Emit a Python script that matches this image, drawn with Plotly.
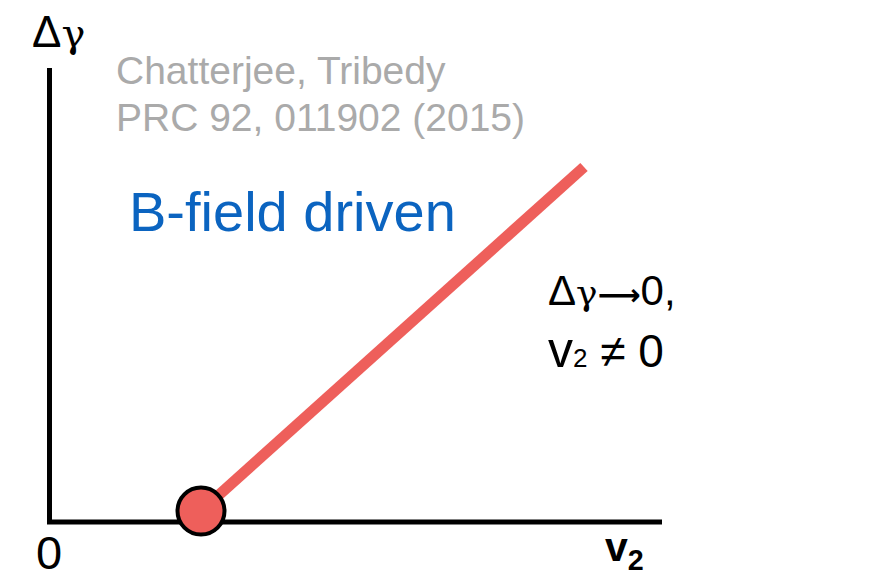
import plotly.graph_objects as go

W, H = 875, 574
PAGE_OFF = 8  # default body margin of the html page

# data (axis units: 1 unit = 100 px, origin at axes corner)
line_v2 = [1.515, 5.345]
line_dgamma = [0.11, 3.55]
point_v2 = [1.515]
point_dgamma = [0.11]
axis_x_end = 6.125
axis_y_end = 4.54

OX, OY = 49.5 - PAGE_OFF, 522.0 - PAGE_OFF  # origin in figure pixels
SCALE = 100.0

RED = "#EE5F5B"
BLUE = "#0B64C0"
GRAY = "#AAAAAA"
SANS = "Liberation Sans, Arial, sans-serif"

fig = go.Figure()

# axes
fig.add_trace(go.Scatter(x=[0, 0, axis_x_end], y=[axis_y_end, 0, 0], mode="lines",
                         line=dict(color="black", width=5), hoverinfo="skip", showlegend=False))
# line
fig.add_trace(go.Scatter(x=line_v2, y=line_dgamma, mode="lines",
                         line=dict(color=RED, width=11), hoverinfo="skip", showlegend=False))
# point
fig.add_trace(go.Scatter(x=point_v2, y=point_dgamma, mode="markers",
                         marker=dict(color=RED, size=47, line=dict(color="black", width=4)),
                         hoverinfo="skip", showlegend=False))


def px(xp, yp):
    return (xp - PAGE_OFF) / W, 1 - (yp - PAGE_OFF) / H


def ann(text, xp, yp, size, color="black", xanchor="left", yanchor="middle", family=SANS):
    x, y = px(xp, yp)
    fig.add_annotation(text=text, x=x, y=y, xref="paper", yref="paper",
                       xanchor=xanchor, yanchor=yanchor, showarrow=False,
                       font=dict(size=size, color=color, family=family))


def gam(size):
    return '<span style="font-family:DejaVu Serif;font-size:%dpx">γ</span>' % size


arrow = '<span style="font-family:DejaVu Sans;font-size:30px"><b>⟶</b></span>'
ann("Δ" + gam(40), 30, 32, 44)
ann("0", 49, 552, 47, xanchor="center")
ann("<b>v<sub>2</sub></b>", 603, 550, 41)
ann("Chatterjee, Tribedy", 114, 71, 39, color=GRAY)
ann("PRC 92, 011902 (2015)", 114, 117, 39, color=GRAY)
ann("B-field driven", 127, 212, 56, color=BLUE)
ann("Δ" + gam(36) + arrow + "0,", 546, 290, 42)
ann('<span style="font-size:50px">v</span><span style="font-size:26px">2</span> ≠ 0', 546, 350, 46)

fig.update_layout(
    width=W, height=H, margin=dict(l=0, r=0, t=0, b=0),
    paper_bgcolor="white", plot_bgcolor="white",
    xaxis=dict(range=[-OX / SCALE, (W - OX) / SCALE], visible=False, fixedrange=True),
    yaxis=dict(range=[(OY - H) / SCALE, OY / SCALE], visible=False, fixedrange=True),
)

fig.write_html("out.html")
